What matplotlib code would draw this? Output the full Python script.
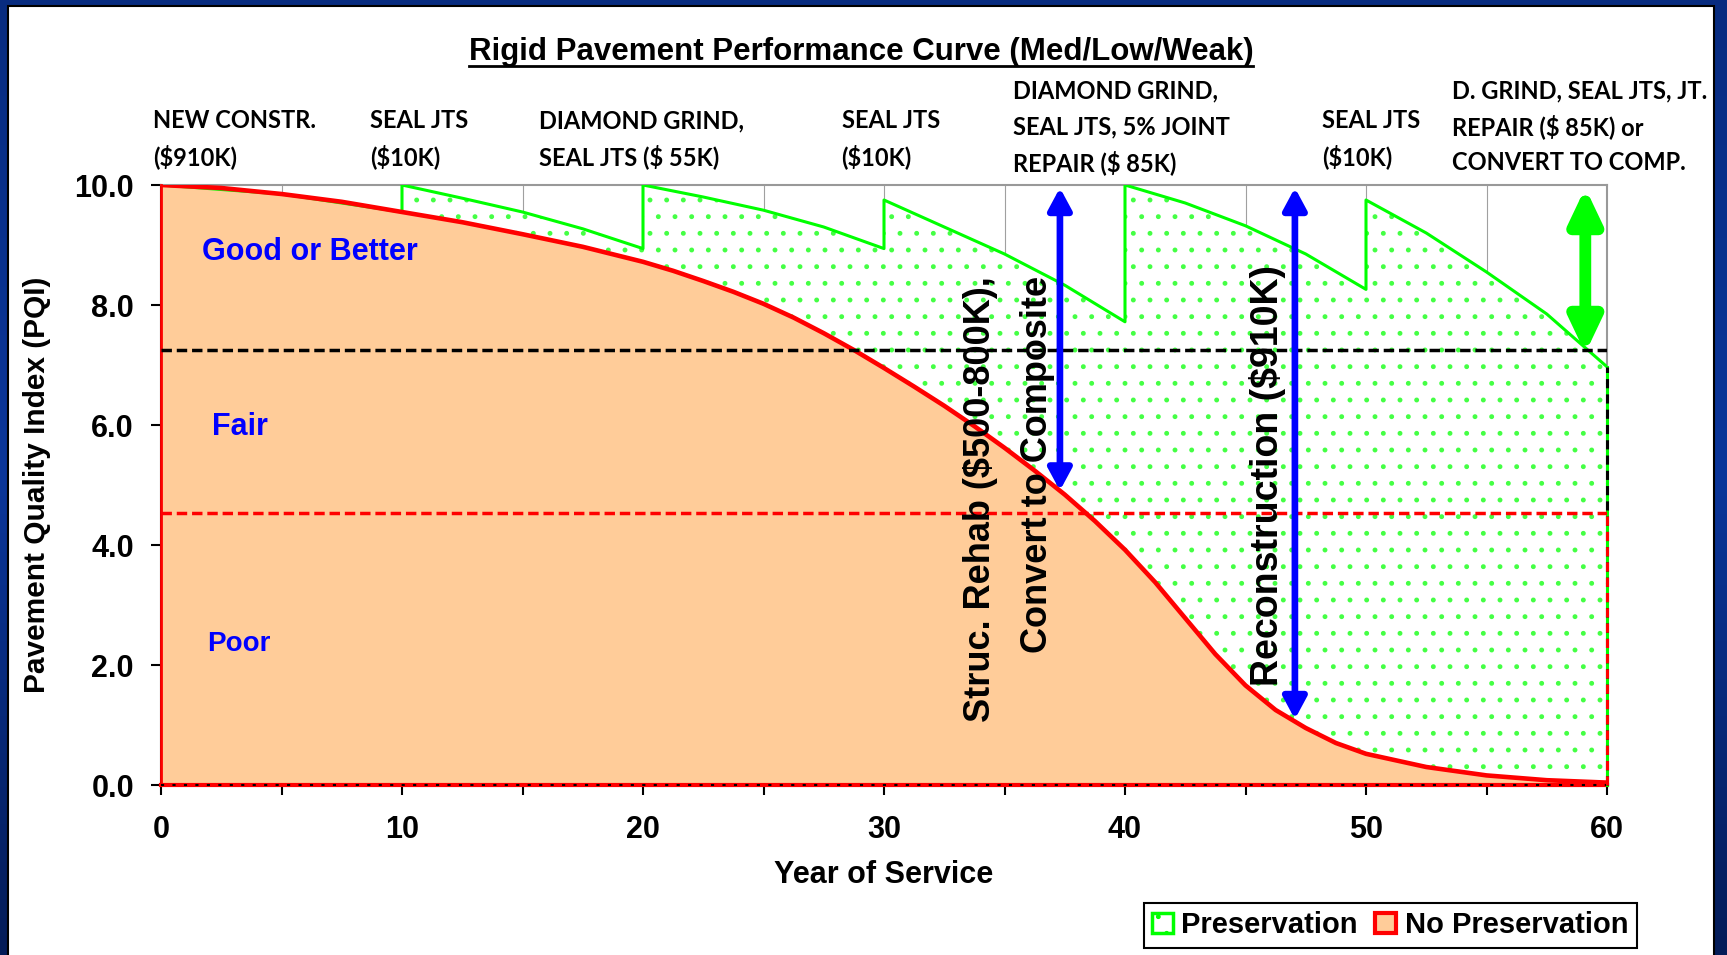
import matplotlib.pyplot as plt
import numpy as np
from matplotlib.patches import Rectangle, FancyArrowPatch, Patch
from matplotlib.colors import LinearSegmentedColormap
from matplotlib.lines import Line2D
from matplotlib.ticker import MultipleLocator, FormatStrFormatter

plt.rcParams['font.family'] = ['Liberation Sans', 'DejaVu Sans']
plt.rcParams['font.weight'] = 'bold'
plt.rcParams['axes.labelweight'] = 'bold'
plt.rcParams['hatch.linewidth'] = 1.1

# no preservation curve
years = [0, 2.5, 5, 7.5, 10, 12.5, 15, 17.5, 20, 21.25, 22.5, 23.75, 25, 26.25, 27.5,
         28.75, 30, 31.25, 32.5, 33.75, 35, 36.25, 37.5, 38.75, 40, 41.25, 42.5, 43.75,
         45, 46.25, 47.5, 48.75, 50, 52.5, 55, 57.5, 60]
no_pres = [10.0, 9.95, 9.85, 9.72, 9.55, 9.38, 9.18, 8.97, 8.72, 8.57, 8.40, 8.22, 8.02,
           7.79, 7.53, 7.25, 6.95, 6.64, 6.32, 5.98, 5.62, 5.24, 4.84, 4.40, 3.92, 3.38,
           2.78, 2.18, 1.66, 1.25, 0.95, 0.70, 0.52, 0.30, 0.16, 0.08, 0.04]

# preservation sawtooth (treatment every 10 years)
pres_years = [0, 5, 10, 10, 12.5, 15, 17.5, 20, 20, 22.5, 25, 27.5, 30, 30, 32.5, 35,
              37.5, 40, 40, 42.5, 45, 47.5, 50, 50, 52.5, 55, 57.5, 60]
pres_vals = [10.0, 9.85, 9.55, 10.0, 9.78, 9.55, 9.27, 8.94, 10.0, 9.8, 9.58, 9.3, 8.94, 9.75,
             9.3, 8.85, 8.33, 7.72, 10.0, 9.7, 9.32, 8.85, 8.26, 9.75, 9.2, 8.55, 7.85, 6.97]

good_fair = 7.25
fair_poor = 4.53

notes = [
    ["NEW CONSTR.", "($910K)"],
    ["SEAL JTS", "($10K)"],
    ["DIAMOND GRIND,", "SEAL JTS ($ 55K)"],
    ["SEAL JTS", "($10K)"],
    ["DIAMOND GRIND,", "SEAL JTS, 5% JOINT", "REPAIR ($ 85K)"],
    ["SEAL JTS", "($10K)"],
    ["D. GRIND, SEAL JTS, JT.", "REPAIR ($ 85K) or", "CONVERT TO COMP."],
]
note_x = [-0.33, 8.67, 15.67, 28.24, 35.37, 48.16, 53.56]

W, H = 1727, 955
fig = plt.figure(figsize=(W / 100, H / 100), dpi=100)

# navy frame + white panel
bg = fig.add_axes([0, 0, 1, 1])
navy = LinearSegmentedColormap.from_list('navy', ['#082c80', '#0b369a', '#041c58'])
bg.imshow(np.linspace(0, 1, 256).reshape(-1, 1), aspect='auto', cmap=navy,
          extent=[0, 1, 0, 1], origin='upper')
bg.set_xlim(0, 1)
bg.set_ylim(0, 1)
bg.axis('off')
bg.add_patch(Rectangle((8 / W, -0.01), (1714 - 8) / W, 1.01 - 6 / H,
                       facecolor='white', edgecolor='black', lw=1.5))

ax = fig.add_axes([161 / W, 1 - 785 / H, 1446 / W, 600 / H])

ax.fill_between(pres_years, 0, pres_vals, facecolor='white', edgecolor='#44ff44',
                hatch='.', linewidth=0, zorder=1)
ax.fill_between(years, 0, no_pres, facecolor='#ffcc99', linewidth=0, zorder=2)
ax.plot(pres_years, pres_vals, color='#00ff00', lw=2.2, zorder=3)
ax.plot(years, no_pres, color='#ff0000', lw=3.3, zorder=4, solid_joinstyle='round')

# area borders
ax.plot([0, 0], [0, 10], color='#ff0000', lw=2, zorder=4, clip_on=False)
ax.plot([0, 60], [0, 0], color='#ff0000', lw=3, zorder=4, clip_on=False)
ax.plot([0, 60], [0, 0], color='black', lw=1.5, dashes=(1.5, 4), zorder=4, clip_on=False)
ax.plot([60, 60], [0, pres_vals[-1]], color='#00ff00', lw=2.2, zorder=4, clip_on=False)
ax.plot([60, 60], [0, pres_vals[-1]], color='black', lw=2.2, dashes=(3, 2), zorder=4, clip_on=False)
ax.plot([60, 60], [0, fair_poor], color='#ff0000', lw=2.2, dashes=(3, 2), zorder=4, clip_on=False)

ax.axhline(good_fair, color='black', lw=2.5, dashes=(3.0, 1.4), zorder=5)
ax.axhline(fair_poor, color='#ff0000', lw=2.5, dashes=(3.0, 1.4), zorder=5)


def double_arrow(x, y0, y1, color, shaft, hw, hl):
    ax.add_patch(FancyArrowPatch((x, y0), (x, y1),
                                 arrowstyle=f'<|-|>,head_width={hw},head_length={hl}',
                                 mutation_scale=10, lw=shaft, color=color,
                                 shrinkA=2, shrinkB=2, zorder=6))


double_arrow(37.3, 10.0, 4.86, '#0000ff', 4.8, 0.7, 1.3)
double_arrow(47.05, 10.0, 1.05, '#0000ff', 4.8, 0.7, 1.3)
double_arrow(59.1, 10.0, 7.15, '#00ff00', 8.5, 0.95, 2.0)

ax.text(35.19, 8.48, "Struc. Rehab ($500-800K),\nConvert to Composite", rotation=90,
        ha='center', va='top', multialignment='right', fontsize=26, linespacing=1.8, zorder=7)
ax.text(45.92, 5.16, "Reconstruction ($910K)", rotation=90, ha='center', va='center',
        fontsize=27, zorder=7)

ax.text(6.16, 8.88, "Good or Better", color='#0000ff', fontsize=22, ha='center', va='center', zorder=7)
ax.text(3.28, 5.96, "Fair", color='#0000ff', fontsize=22, ha='center', va='center', zorder=7)
ax.text(3.24, 2.35, "Poor", color='#0000ff', fontsize=20, ha='center', va='center', zorder=7)

for lines, x in zip(notes, note_x):
    base = 10.47 if len(lines) == 2 else 10.37
    for i, line in enumerate(lines):
        ax.text(x, base + (len(lines) - 1 - i) * 0.6, line, family=['Lato', 'DejaVu Sans'],
                fontsize=17, fontweight='bold', ha='left', va='center')

ax.set_xlim(0, 60)
ax.set_ylim(0, 10)
ax.xaxis.set_major_locator(MultipleLocator(10))
ax.xaxis.set_minor_locator(MultipleLocator(5))
ax.yaxis.set_major_locator(MultipleLocator(2))
ax.yaxis.set_major_formatter(FormatStrFormatter('%.1f'))
ax.tick_params(axis='both', which='both', direction='out', length=7.5, width=1.5, color='black')
ax.tick_params(axis='x', which='major', labelsize=22, pad=14)
ax.tick_params(axis='y', labelsize=22, pad=12)
ax.grid(True, axis='x', which='both', color='#a0a0a0', lw=0.8)
ax.set_axisbelow(True)
for s in ['left', 'bottom']:
    ax.spines[s].set_color('black')
    ax.spines[s].set_linewidth(1.5)
for s in ['top', 'right']:
    ax.spines[s].set_color('#999999')
    ax.spines[s].set_linewidth(1.5)

ax.set_xlabel('Year of Service', fontsize=22, fontweight='bold')
ax.xaxis.set_label_coords(0.5, (785 - 875) / 600)
ax.xaxis.label.set_va('center')
ax.set_ylabel('Pavement Quality Index (PQI)', fontsize=21.5, fontweight='bold')
ax.yaxis.set_label_coords((36.7 - 161) / 1446, 0.5)
ax.yaxis.label.set_va('center')

handles = [Patch(facecolor='white', edgecolor='#00ff00', hatch='.', lw=2.5),
           Patch(facecolor='#ffcc99', edgecolor='#ff0000', lw=3)]
leg = fig.legend(handles, ['Preservation', 'No Preservation'], loc='center',
                 bbox_to_anchor=(0.805, 0.031), ncol=2, fancybox=False, edgecolor='black',
                 framealpha=1, prop=dict(weight='bold', size=21), handlelength=0.7,
                 handleheight=0.7, handletextpad=0.3, columnspacing=0.6, borderpad=0.3)
leg.get_frame().set_linewidth(1.5)

title = fig.text(0.4986, 1 - 51.8 / H, 'Rigid Pavement Performance Curve (Med/Low/Weak)',
                 ha='center', va='center', fontsize=22.5)
fig.canvas.draw()
bb = title.get_window_extent()
fig.add_artist(Line2D([bb.x0 / W, bb.x1 / W], [1 - 66 / H, 1 - 66 / H],
                      color='black', lw=2, transform=fig.transFigure))

fig.savefig('out.png', dpi=100)
